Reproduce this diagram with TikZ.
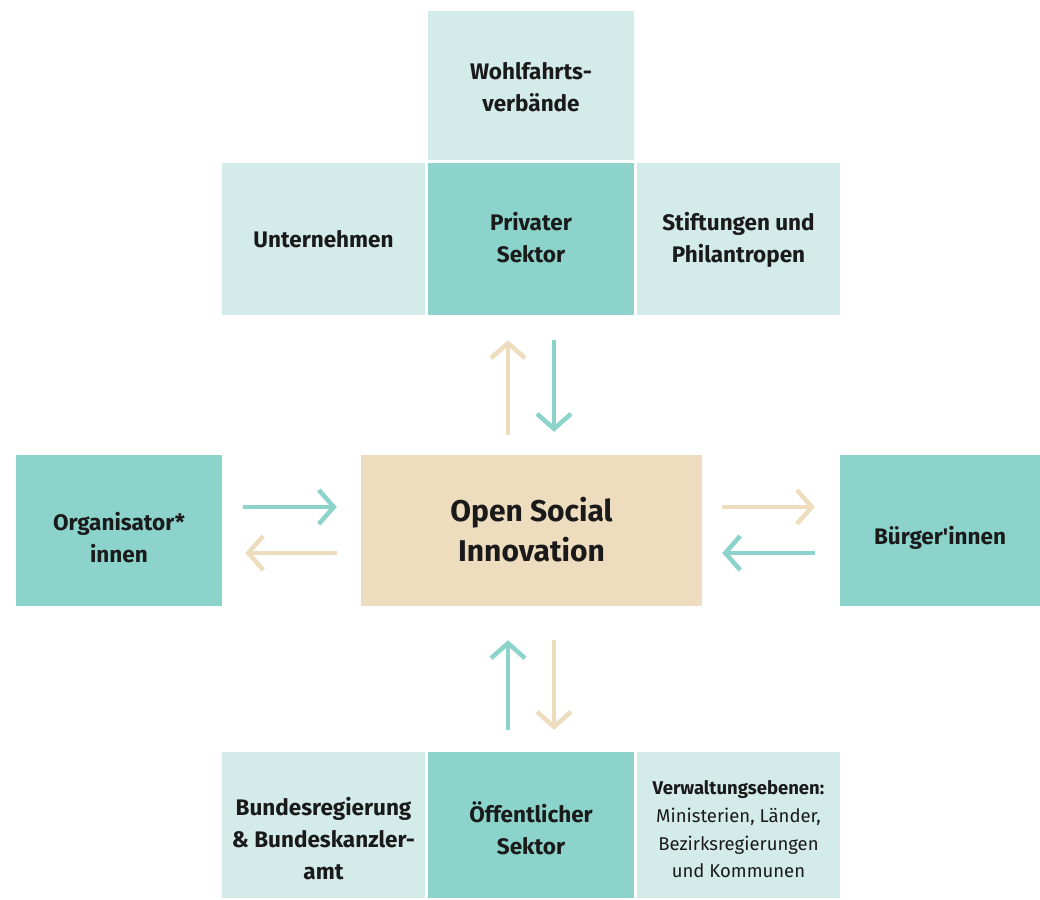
\documentclass[tikz,border=0pt]{standalone}
\usepackage{fontspec}
\setmainfont{Fira Sans}
\usetikzlibrary{arrows.meta}
\definecolor{lteal}{HTML}{D4ECE9}
\definecolor{teal2}{HTML}{8BD3CB}
\definecolor{beige}{HTML}{EDDCBE}
\definecolor{txt}{HTML}{1A1A1A}
\tikzset{
  box/.style={rectangle, inner sep=0pt},
  lbox/.style={box, fill=lteal},
  tbox/.style={box, fill=teal2},
  lab/.style={inner sep=0pt, align=center, text=txt, font=\fontsize{22.5}{32}\selectfont\bfseries},
  arr/.style={line width=4.5pt, -{Straight Barb[length=15pt,width=34pt,line width=4.5pt]}},
  tarr/.style={arr, draw=teal2},
  barr/.style={arr, draw=beige},
}
\begin{document}
\begin{tikzpicture}[x=1pt,y=-1pt]
\useasboundingbox (0,0) rectangle (1040,899);
\node[lbox, minimum width=206pt, minimum height=149pt] (wohl) at (531,85.5) {};
\node[lbox, minimum width=203pt, minimum height=152pt] (unter) at (323.5,239) {};
\node[tbox, minimum width=206pt, minimum height=152pt] (priv) at (531,239) {};
\node[lbox, minimum width=203pt, minimum height=152pt] (stift) at (738.5,239) {};
\node[tbox, minimum width=206pt, minimum height=151pt] (org) at (119,530.5) {};
\node[box, fill=beige, minimum width=341pt, minimum height=151pt] (osi) at (531.5,530.5) {};
\node[tbox, minimum width=200pt, minimum height=151pt] (buerg) at (940,530.5) {};
\node[lbox, minimum width=203pt, minimum height=146pt] (bund) at (323.5,825) {};
\node[tbox, minimum width=206pt, minimum height=146pt] (oeff) at (531,825) {};
\node[lbox, minimum width=203pt, minimum height=146pt] (verw) at (738.5,825) {};
% labels (yshift is in page units: negative moves down)
\node[lab] (twohl) at ([yshift=-2pt]wohl.center) {Wohlfahrts-\\verbände};
\node[lab] (tunter) at (unter.center) {Unternehmen};
\node[lab] (tpriv) at ([yshift=1pt]priv.center) {Privater\\Sektor};
\node[lab] (tstift) at ([yshift=-1pt]stift.center) {Stiftungen und\\Philantropen};
\node[lab] (torg) at ([yshift=-7pt]org.center) {Organisator*\\innen};
\node[lab, font=\fontsize{30}{40}\selectfont\bfseries] (tosi) at ([yshift=1pt]osi.center) {Open Social\\Innovation};
\node[lab] (tbuerg) at ([yshift=-7pt]buerg.center) {Bürger\textquotesingle innen};
\node[lab] (tbund) at ([yshift=-14pt]bund.center) {Bundesregierung\\\& Bundeskanzler-\\amt};
\node[lab] (toeff) at ([yshift=-3pt]oeff.center) {Öffentlicher\\Sektor};
\node[lab, font=\fontsize{18.5}{27.7}\selectfont] (tverw) at ([yshift=-4.5pt]verw.center) {\textbf{Verwaltungsebenen:}\\Ministerien, Länder,\\Bezirksregierungen\\und Kommunen};
% top
\draw[barr, shorten <=20pt, shorten >=25pt] ([xshift=-23.5pt]osi.north) -- ([xshift=-23pt]priv.south);
\draw[tarr, shorten <=25pt, shorten >=23pt] ([xshift=23pt]priv.south) -- ([xshift=22.5pt]osi.north);
% left
\draw[tarr, shorten <=21pt, shorten >=24pt] ([yshift=23.5pt]org.east) -- ([yshift=23.5pt]osi.west);
\draw[barr, shorten <=24pt, shorten >=23pt] ([yshift=-22.5pt]osi.west) -- ([yshift=-22.5pt]org.east);
% right
\draw[barr, shorten <=20pt, shorten >=25pt] ([yshift=23.5pt]osi.east) -- ([yshift=23.5pt]buerg.west);
\draw[tarr, shorten <=25pt, shorten >=20pt] ([yshift=-22.5pt]buerg.west) -- ([yshift=-22.5pt]osi.east);
% bottom
\draw[tarr, shorten <=22pt, shorten >=34pt] ([xshift=-23pt]oeff.north) -- ([xshift=-23.5pt]osi.south);
\draw[barr, shorten <=34pt, shorten >=22pt] ([xshift=22.5pt]osi.south) -- ([xshift=23pt]oeff.north);
\end{tikzpicture}
\end{document}
